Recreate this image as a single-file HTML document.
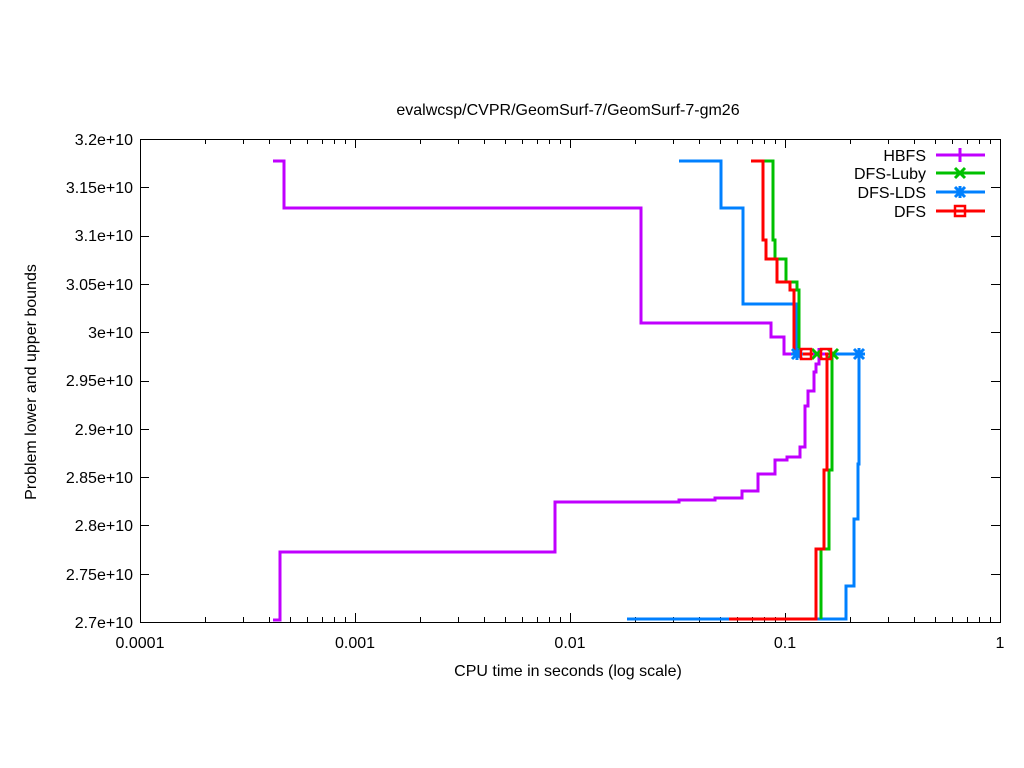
<!DOCTYPE html>
<html><head><meta charset="utf-8"><style>html,body{margin:0;padding:0;background:#fff}svg{display:block}text{font-family:"Liberation Sans",sans-serif;font-size:16px;fill:#000}</style></head>
<body>
<svg id="s" width="1024" height="768" xmlns="http://www.w3.org/2000/svg">
<rect width="1024" height="768" fill="#fff"/>
<g id="ticks" stroke="#000" stroke-width="1"></g>
<rect x="140.5" y="139.5" width="860" height="483" fill="none" stroke="#000"/>
<text x="568" y="115" text-anchor="middle">evalwcsp/CVPR/GeomSurf-7/GeomSurf-7-gm26</text>
<g text-anchor="end">
<text x="133" y="628">2.7e+10</text><text x="133" y="580">2.75e+10</text><text x="133" y="531">2.8e+10</text><text x="133" y="483">2.85e+10</text><text x="133" y="435">2.9e+10</text><text x="133" y="386">2.95e+10</text><text x="133" y="338">3e+10</text><text x="133" y="290">3.05e+10</text><text x="133" y="241">3.1e+10</text><text x="133" y="193">3.15e+10</text><text x="133" y="145">3.2e+10</text>
</g>
<g text-anchor="middle">
<text x="140" y="648">0.0001</text><text x="355" y="648">0.001</text><text x="570" y="648">0.01</text><text x="785" y="648">0.1</text><text x="1000" y="648">1</text>
</g>
<text x="568" y="676" text-anchor="middle">CPU time in seconds (log scale)</text>
<text transform="translate(36,382) rotate(-90)" text-anchor="middle">Problem lower and upper bounds</text>
<g fill="none" stroke-width="3">
<polyline stroke="#c000ff" points="273,620 280,620 280,552 555,552 555,502 679,502 679,500 715,500 715,498 742,498 742,491 758,491 758,474 775,474 775,460 787,460 787,457 800,457 800,447 805,447 805,406 808,406 808,391 814,391 814,372 816,372 816,364 819,364 819,355"/>
<polyline stroke="#c000ff" points="273,161 284,161 284,208 641,208 641,323 771,323 771,337 784,337 784,354 819,354"/>
<polyline stroke="#0080ff" points="679,161 721,161 721,208 743,208 743,304 797,304 797,354 859,354 859,464 858,464 858,519 854,519 854,586 846,586 846,619 627,619"/>
<polyline stroke="#00c000" points="760,161 773,161 773,240 775,240 775,259 786,259 786,282 797,282 797,290 799,290 799,354 832,354 832,470 829,470 829,549 821,549 821,619"/>
<polyline stroke="#ff0000" points="751,161 763,161 763,240 766,240 766,259 777,259 777,282 790,282 790,290 794,290 794,354 827,354 827,470 824,470 824,549 816,549 816,619 729,619"/>
<line x1="936" y1="155" x2="985" y2="155" stroke="#c000ff"/>
<line x1="936" y1="173" x2="985" y2="173" stroke="#00c000"/>
<line x1="936" y1="192" x2="985" y2="192" stroke="#0080ff"/>
<line x1="936" y1="211" x2="985" y2="211" stroke="#ff0000"/>
<g stroke="#c000ff"><path d="M960 148v14M953 155h14M819 348v12M813 354h12"/></g>
<g stroke="#00c000"><path d="M955 168l10 10M965 168l-10 10M812 349l10 10M822 349l-10 10M828 349l10 10M838 349l-10 10"/></g>
<g stroke="#0080ff"><path d="M955 187l10 10M965 187l-10 10M960 186v12M954 192h12M792 349l10 10M802 349l-10 10M797 348v12M791 354h12M854 349l10 10M864 349l-10 10M859 348v12M853 354h12"/></g>
<g stroke="#ff0000" stroke-width="2.5"><rect x="955" y="206" width="10" height="10"/><rect x="801" y="349" width="10" height="10"/><rect x="821" y="349" width="10" height="10"/></g>
</g>
<g text-anchor="end">
<text x="926" y="161">HBFS</text><text x="926" y="179">DFS-Luby</text><text x="926" y="198">DFS-LDS</text><text x="926" y="217">DFS</text>
</g>
</svg>
<script>
var g=document.getElementById('ticks'),d='';
for(var e=0;e<4;e++){for(var k=1;k<=10;k++){var x=140+215*e+215*Math.log10(k);var L=(k==1||k==10)?9:5;x=Math.round(x)+0.5;d+='M'+x+' 622v-'+L+'M'+x+' 139v'+L;}}
for(var i=0;i<=10;i++){var y=Math.round(622-i*48.3)+0.5;d+='M140 '+y+'h9M1000 '+y+'h-9';}
var p=document.createElementNS('http://www.w3.org/2000/svg','path');p.setAttribute('d',d);g.appendChild(p);
</script>
</body></html>
